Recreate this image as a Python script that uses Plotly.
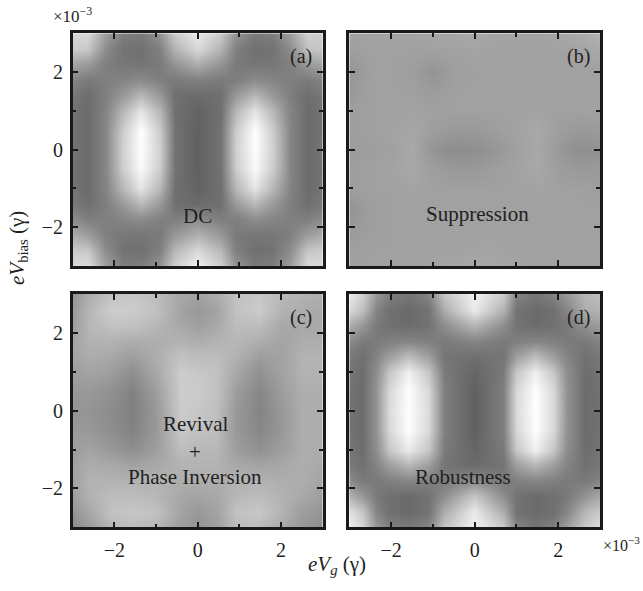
import plotly.graph_objects as go

# ---------------- data (grey level 0=black .. 1=white) ----------------
# panels a, c, d: each list below is one column (fixed x), values from y=-3 (first) to y=+3 (last)
y_grid = [-3, -2.6, -2.2, -1.8, -1.4, -1.0, -0.5, 0, 0.5, 1.0, 1.4, 1.8, 2.2, 2.6, 3]

# panel (a) DC
x_a = [-3, -2.65, -2.2, -1.8, -1.36, -0.92, -0.55, 0, 0.55, 0.92, 1.36, 1.8, 2.2, 2.65, 3]
z_a = [
    [0.85, 0.80, 0.68, 0.55, 0.48, 0.46, 0.45, 0.46, 0.45, 0.45, 0.47, 0.52, 0.65, 0.80, 0.85],
    [0.88, 0.78, 0.62, 0.50, 0.44, 0.42, 0.42, 0.42, 0.42, 0.42, 0.43, 0.48, 0.60, 0.78, 0.85],
    [0.62, 0.55, 0.50, 0.50, 0.50, 0.52, 0.53, 0.53, 0.53, 0.52, 0.50, 0.50, 0.50, 0.55, 0.62],
    [0.50, 0.45, 0.47, 0.52, 0.60, 0.72, 0.80, 0.82, 0.80, 0.72, 0.60, 0.52, 0.47, 0.45, 0.50],
    [0.50, 0.44, 0.46, 0.55, 0.72, 0.90, 0.98, 1.00, 1.00, 0.90, 0.72, 0.55, 0.46, 0.44, 0.48],
    [0.58, 0.50, 0.48, 0.50, 0.60, 0.72, 0.80, 0.82, 0.80, 0.72, 0.60, 0.50, 0.48, 0.50, 0.58],
    [0.82, 0.72, 0.60, 0.50, 0.44, 0.44, 0.45, 0.45, 0.45, 0.44, 0.44, 0.48, 0.58, 0.70, 0.80],
    [0.95, 0.85, 0.70, 0.55, 0.42, 0.39, 0.38, 0.38, 0.38, 0.39, 0.42, 0.50, 0.68, 0.85, 0.92],
    [0.82, 0.72, 0.60, 0.50, 0.44, 0.44, 0.45, 0.45, 0.45, 0.44, 0.44, 0.48, 0.58, 0.70, 0.80],
    [0.58, 0.50, 0.48, 0.50, 0.60, 0.72, 0.80, 0.82, 0.80, 0.72, 0.60, 0.50, 0.48, 0.50, 0.58],
    [0.48, 0.44, 0.46, 0.55, 0.72, 0.90, 0.98, 1.00, 1.00, 0.90, 0.72, 0.55, 0.46, 0.44, 0.48],
    [0.50, 0.45, 0.47, 0.52, 0.60, 0.72, 0.80, 0.82, 0.80, 0.72, 0.60, 0.52, 0.47, 0.45, 0.50],
    [0.62, 0.55, 0.50, 0.50, 0.50, 0.52, 0.53, 0.53, 0.53, 0.52, 0.50, 0.50, 0.50, 0.55, 0.62],
    [0.86, 0.78, 0.62, 0.50, 0.44, 0.42, 0.42, 0.42, 0.42, 0.42, 0.43, 0.48, 0.60, 0.76, 0.82],
    [0.85, 0.80, 0.68, 0.55, 0.48, 0.46, 0.45, 0.46, 0.45, 0.45, 0.47, 0.52, 0.65, 0.78, 0.80],
]

# panel (c) Revival + Phase Inversion
x_c = [-3, -2.6, -2.1, -1.56, -1.0, -0.4, 0, 0.45, 0.9, 1.49, 2.05, 2.5, 3]
z_c = [
    [0.55, 0.58, 0.62, 0.64, 0.63, 0.62, 0.60, 0.58, 0.60, 0.62, 0.64, 0.64, 0.62, 0.60, 0.58],
    [0.62, 0.66, 0.70, 0.70, 0.68, 0.64, 0.60, 0.58, 0.60, 0.64, 0.68, 0.70, 0.72, 0.72, 0.68],
    [0.72, 0.76, 0.74, 0.70, 0.66, 0.60, 0.56, 0.55, 0.57, 0.62, 0.66, 0.70, 0.76, 0.80, 0.76],
    [0.74, 0.78, 0.74, 0.70, 0.64, 0.56, 0.51, 0.50, 0.51, 0.56, 0.62, 0.68, 0.76, 0.80, 0.78],
    [0.72, 0.76, 0.72, 0.70, 0.66, 0.62, 0.60, 0.60, 0.62, 0.66, 0.68, 0.68, 0.72, 0.76, 0.74],
    [0.62, 0.64, 0.66, 0.68, 0.70, 0.74, 0.78, 0.80, 0.80, 0.80, 0.76, 0.70, 0.66, 0.64, 0.66],
    [0.58, 0.60, 0.64, 0.68, 0.70, 0.72, 0.76, 0.78, 0.80, 0.78, 0.74, 0.68, 0.62, 0.60, 0.64],
    [0.62, 0.64, 0.66, 0.68, 0.70, 0.72, 0.74, 0.75, 0.76, 0.76, 0.74, 0.70, 0.66, 0.64, 0.68],
    [0.74, 0.76, 0.72, 0.70, 0.66, 0.62, 0.60, 0.60, 0.62, 0.66, 0.70, 0.72, 0.74, 0.76, 0.76],
    [0.74, 0.78, 0.74, 0.70, 0.64, 0.57, 0.53, 0.52, 0.53, 0.57, 0.62, 0.68, 0.74, 0.80, 0.78],
    [0.66, 0.70, 0.70, 0.68, 0.66, 0.62, 0.60, 0.60, 0.62, 0.64, 0.64, 0.64, 0.66, 0.70, 0.72],
    [0.60, 0.62, 0.66, 0.68, 0.68, 0.68, 0.68, 0.68, 0.68, 0.70, 0.70, 0.68, 0.66, 0.68, 0.70],
    [0.56, 0.58, 0.62, 0.64, 0.66, 0.68, 0.68, 0.68, 0.68, 0.70, 0.70, 0.68, 0.66, 0.66, 0.68],
]

# panel (d) Robustness
x_d = [-3, -2.7, -2.35, -2.05, -1.6, -1.12, -0.72, 0, 0.68, 1.0, 1.44, 1.88, 2.2, 2.65, 3]
z_d = [
    [0.95, 0.88, 0.70, 0.55, 0.48, 0.46, 0.45, 0.45, 0.45, 0.46, 0.48, 0.55, 0.68, 0.85, 0.92],
    [0.85, 0.78, 0.60, 0.48, 0.44, 0.43, 0.42, 0.42, 0.42, 0.43, 0.44, 0.48, 0.60, 0.75, 0.82],
    [0.60, 0.52, 0.48, 0.48, 0.52, 0.56, 0.58, 0.58, 0.58, 0.56, 0.52, 0.48, 0.48, 0.52, 0.60],
    [0.50, 0.44, 0.44, 0.50, 0.62, 0.78, 0.85, 0.86, 0.85, 0.78, 0.62, 0.50, 0.44, 0.44, 0.50],
    [0.48, 0.42, 0.42, 0.52, 0.72, 0.92, 1.00, 1.00, 1.00, 0.94, 0.74, 0.52, 0.42, 0.42, 0.46],
    [0.52, 0.45, 0.45, 0.50, 0.62, 0.78, 0.85, 0.86, 0.85, 0.78, 0.62, 0.50, 0.45, 0.45, 0.52],
    [0.78, 0.68, 0.56, 0.48, 0.46, 0.48, 0.50, 0.50, 0.50, 0.48, 0.46, 0.48, 0.56, 0.68, 0.78],
    [0.95, 0.92, 0.78, 0.55, 0.42, 0.40, 0.38, 0.38, 0.38, 0.40, 0.44, 0.52, 0.72, 0.92, 0.95],
    [0.80, 0.68, 0.56, 0.48, 0.46, 0.48, 0.50, 0.50, 0.50, 0.48, 0.46, 0.48, 0.56, 0.70, 0.80],
    [0.52, 0.45, 0.45, 0.50, 0.62, 0.78, 0.85, 0.86, 0.85, 0.78, 0.62, 0.50, 0.45, 0.45, 0.52],
    [0.46, 0.42, 0.42, 0.52, 0.72, 0.94, 1.00, 1.00, 1.00, 0.94, 0.74, 0.52, 0.42, 0.42, 0.46],
    [0.50, 0.44, 0.44, 0.50, 0.62, 0.78, 0.85, 0.86, 0.85, 0.78, 0.62, 0.50, 0.44, 0.44, 0.52],
    [0.62, 0.52, 0.48, 0.48, 0.52, 0.56, 0.58, 0.58, 0.58, 0.56, 0.52, 0.48, 0.48, 0.52, 0.60],
    [0.80, 0.72, 0.58, 0.48, 0.44, 0.43, 0.42, 0.42, 0.42, 0.43, 0.44, 0.48, 0.58, 0.68, 0.72],
    [0.88, 0.80, 0.66, 0.52, 0.47, 0.46, 0.45, 0.45, 0.45, 0.46, 0.47, 0.52, 0.62, 0.70, 0.75],
]

# panel (b) Suppression: each list below is one row (fixed y), values from x=-3 to x=+3
x_b = [-3, -2.5, -2, -1.5, -1, -0.5, 0, 0.5, 1, 1.5, 2, 2.5, 3]
y_b = [-3, -2.5, -2, -1.5, -1, -0.5, 0, 0.5, 1, 1.5, 2, 2.5, 3]
z_b = [
    [0.63, 0.63, 0.63, 0.63, 0.64, 0.65, 0.66, 0.65, 0.64, 0.63, 0.63, 0.63, 0.63],
    [0.62, 0.63, 0.63, 0.63, 0.63, 0.63, 0.64, 0.64, 0.63, 0.63, 0.63, 0.63, 0.63],
    [0.60, 0.62, 0.63, 0.63, 0.63, 0.63, 0.63, 0.63, 0.63, 0.63, 0.63, 0.63, 0.63],
    [0.58, 0.62, 0.63, 0.63, 0.63, 0.63, 0.63, 0.63, 0.63, 0.63, 0.63, 0.63, 0.63],
    [0.62, 0.63, 0.63, 0.64, 0.63, 0.63, 0.63, 0.63, 0.63, 0.64, 0.63, 0.63, 0.62],
    [0.62, 0.63, 0.64, 0.66, 0.62, 0.60, 0.60, 0.62, 0.64, 0.66, 0.62, 0.60, 0.61],
    [0.61, 0.62, 0.63, 0.66, 0.58, 0.555, 0.56, 0.59, 0.63, 0.66, 0.60, 0.56, 0.57],
    [0.62, 0.63, 0.64, 0.65, 0.62, 0.60, 0.60, 0.62, 0.64, 0.66, 0.62, 0.60, 0.61],
    [0.62, 0.63, 0.63, 0.64, 0.63, 0.63, 0.63, 0.63, 0.63, 0.64, 0.63, 0.63, 0.63],
    [0.60, 0.63, 0.63, 0.63, 0.61, 0.63, 0.63, 0.63, 0.63, 0.63, 0.63, 0.63, 0.63],
    [0.58, 0.63, 0.63, 0.62, 0.58, 0.62, 0.63, 0.63, 0.63, 0.63, 0.63, 0.63, 0.63],
    [0.62, 0.63, 0.63, 0.63, 0.63, 0.63, 0.64, 0.63, 0.63, 0.63, 0.63, 0.64, 0.66],
    [0.64, 0.64, 0.64, 0.64, 0.65, 0.65, 0.66, 0.65, 0.64, 0.64, 0.65, 0.67, 0.70],
]

panel_labels = ["(a)", "(b)", "(c)", "(d)"]
tick_vals = [-2, 0, 2]
tick_text = ["−2", "0", "2"]

# ---------------- figure ----------------
W, H = 643, 591
TXT = "#231f20"
FONT = "Liberation Serif"
FS = 20

def px_x(p):
    return p / W

def px_y(p):
    return 1 - p / H

dom_x = [(px_x(72.7), px_x(322.7)), (px_x(349.3), px_x(600))]
dom_y = [(px_y(266), px_y(33.3)), (px_y(527.3), px_y(294))]

fig = go.Figure()
panels = [(x_a, y_grid, z_a, True), (x_b, y_b, z_b, False),
          (x_c, y_grid, z_c, True), (x_d, y_grid, z_d, True)]
gray = [[0, "rgb(0,0,0)"], [1, "rgb(255,255,255)"]]

layout = {}
for i, (xs, ys, zs, tr) in enumerate(panels):
    r, c = divmod(i, 2)
    k = "" if i == 0 else str(i + 1)
    fig.add_trace(go.Heatmap(x=xs, y=ys, z=zs, transpose=tr, colorscale=gray, zmin=0, zmax=1,
                             zsmooth="best", showscale=False,
                             xaxis="x" + k, yaxis="y" + k, hoverinfo="skip"))
    common = dict(range=[-3, 3], showgrid=False, zeroline=False, showline=True,
                  linecolor="#1a1a1a", linewidth=2.5, mirror="ticks", ticks="inside",
                  ticklen=6, tickwidth=2, tickcolor="#1a1a1a",
                  tickvals=tick_vals, ticktext=tick_text,
                  tickfont=dict(family=FONT, size=FS, color=TXT),
                  minor=dict(tickvals=[-3, -1, 1, 3], ticks="inside", ticklen=4,
                             tickwidth=1.5, tickcolor="#1a1a1a"))
    layout["xaxis" + k] = dict(common, domain=dom_x[c], anchor="y" + k,
                               showticklabels=(r == 1), ticklabelstandoff=3)
    layout["yaxis" + k] = dict(common, domain=dom_y[r], anchor="x" + k,
                               showticklabels=(c == 0), ticklabelstandoff=3)
    fig.add_annotation(text=panel_labels[i], x=2.48, y=2.4, xref="x" + k, yref="y" + k,
                       showarrow=False, font=dict(family=FONT, size=FS, color=TXT))

fig.update_layout(**layout)

def note(text, x, y, k):
    fig.add_annotation(text=text, x=x, y=y, xref="x" + k, yref="y" + k, showarrow=False,
                       font=dict(family=FONT, size=FS + 1, color=TXT))

note("DC", 0, -1.71, "")
note("Suppression", 0.08, -1.67, "2")
note("Revival", -0.06, -0.34, "3")
note("+", -0.06, -1.07, "3")
note("Phase Inversion", -0.06, -1.70, "3")
note("Robustness", -0.28, -1.71, "4")

# exponent labels
fig.add_annotation(text="×10<sup>−3</sup>", x=px_x(51), y=px_y(2), xref="paper", yref="paper",
                   xanchor="left", yanchor="top", showarrow=False,
                   font=dict(family=FONT, size=17, color=TXT))
fig.add_annotation(text="×10<sup>−3</sup>", x=px_x(642), y=px_y(544), xref="paper", yref="paper",
                   xanchor="right", yanchor="middle", showarrow=False,
                   font=dict(family=FONT, size=16, color=TXT))

# axis titles
fig.add_annotation(text="<i>eV</i><sub>bias</sub> (γ)", x=px_x(3), y=px_y(248),
                   xref="paper", yref="paper", xanchor="left", textangle=-90, showarrow=False,
                   font=dict(family=FONT, size=21, color=TXT))
fig.add_annotation(text="<i>eV<sub>g</sub></i> (γ)", x=px_x(337), y=px_y(580),
                   xref="paper", yref="paper", showarrow=False,
                   font=dict(family=FONT, size=21, color=TXT))

fig.update_layout(width=W, height=H, margin=dict(l=0, r=0, t=0, b=0),
                  paper_bgcolor="white", plot_bgcolor="white", showlegend=False)

fig.write_html("out.html")
